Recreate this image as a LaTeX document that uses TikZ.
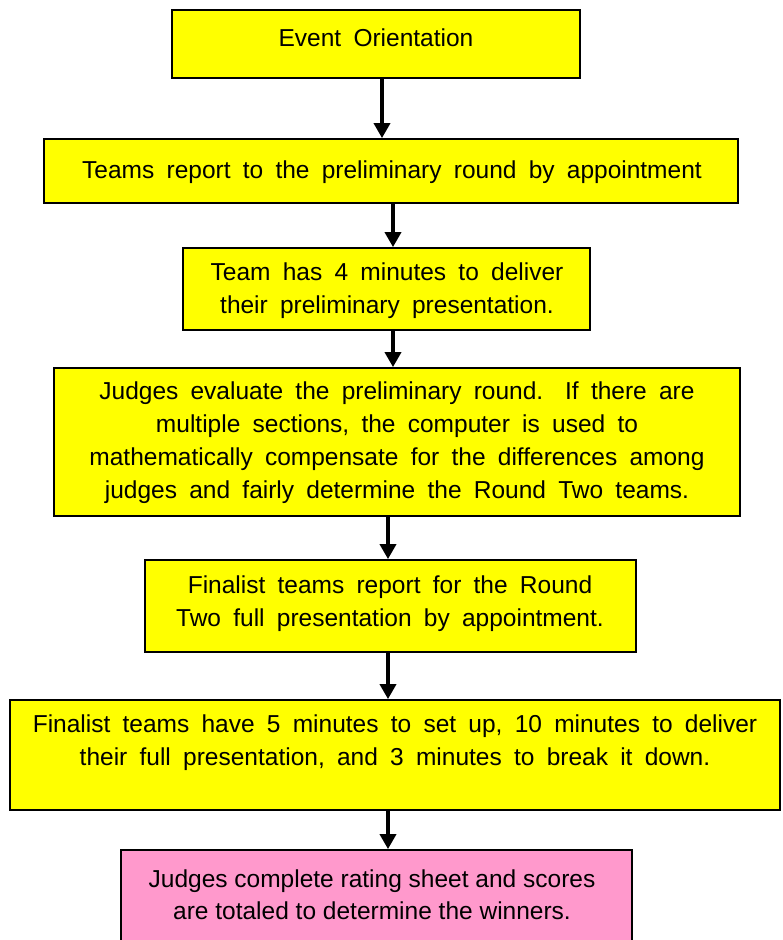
\documentclass[tikz,border=0pt]{standalone}
\usepackage{fontspec}
\setmainfont{Liberation Sans}
\usetikzlibrary{arrows.meta}
\definecolor{boxyellow}{RGB}{255,255,0}
\definecolor{boxpink}{RGB}{255,153,204}
\newcommand\widewordspace{\spaceskip=0.5em plus 0.05em minus 0.05em\relax}
\tikzset{
  box/.style={draw=black, line width=1.8pt, fill=boxyellow, inner sep=0pt, rectangle},
  pinkbox/.style={box, fill=boxpink},
  txt/.style={align=center, inner sep=0pt,
    font={\fontsize{24.5}{33}\selectfont\widewordspace}},
  ptxt/.style={align=center, inner sep=0pt,
    font={\fontsize{24.5}{32}\selectfont}},
  arr/.style={line width=3.6pt, -{Triangle[length=15pt,width=16pt]}}
}
\begin{document}
\begin{tikzpicture}[x=1pt,y=-1pt]
\useasboundingbox (0,0) rectangle (783,940);
% boxes
\node[box, minimum width=408pt, minimum height=68pt] (b1) at (376,44) {};
\node[box, minimum width=694pt, minimum height=64pt] (b2) at (391,171) {};
\node[box, minimum width=407pt, minimum height=82pt] (b3) at (386.5,289) {};
\node[box, minimum width=686pt, minimum height=148pt] (b4) at (397,442) {};
\node[box, minimum width=491pt, minimum height=92pt] (b5) at (390.5,606) {};
\node[box, minimum width=770pt, minimum height=110pt] (b6) at (395,755) {};
\node[pinkbox, minimum width=511pt, minimum height=100pt] (b7) at (376.5,900) {};
% texts
\node[txt] (t1) at (376,38) {Event Orientation};
\node[txt] (t2) at (392,172) {Teams report to the preliminary round by appointment};
\node[txt] (t3) at (387,291) {Team has 4 minutes to deliver\\their preliminary presentation.};
\node[txt] (t4) at (397,443) {Judges evaluate the preliminary round.\hspace{0.3em} If there are\\multiple sections, the computer is used to\\mathematically compensate for the differences among\\judges and fairly determine the Round Two teams.};
\node[txt] (t5) at (390,604) {Finalist teams report for the Round\\Two full presentation by appointment.};
\node[txt] (t6) at (395,743) {Finalist teams have 5 minutes to set up, 10 minutes to deliver\\their full presentation, and 3 minutes to break it down.};
\node[ptxt] (t7) at (372,895) {Judges complete rating sheet and scores\\are totaled to determine the winners.};
% arrow axes
\coordinate (x1) at (382,0);
\coordinate (x2) at (393,0);
\coordinate (x3) at (393,0);
\coordinate (x4) at (388,0);
\coordinate (x5) at (388,0);
\coordinate (x6) at (388,0);
\draw[arr] (b1.south -| x1) -- (b2.north -| x1);
\draw[arr] (b2.south -| x2) -- (b3.north -| x2);
\draw[arr] (b3.south -| x3) -- (b4.north -| x3);
\draw[arr] (b4.south -| x4) -- (b5.north -| x4);
\draw[arr] (b5.south -| x5) -- (b6.north -| x5);
\draw[arr] (b6.south -| x6) -- (b7.north -| x6);
\end{tikzpicture}
\end{document}
